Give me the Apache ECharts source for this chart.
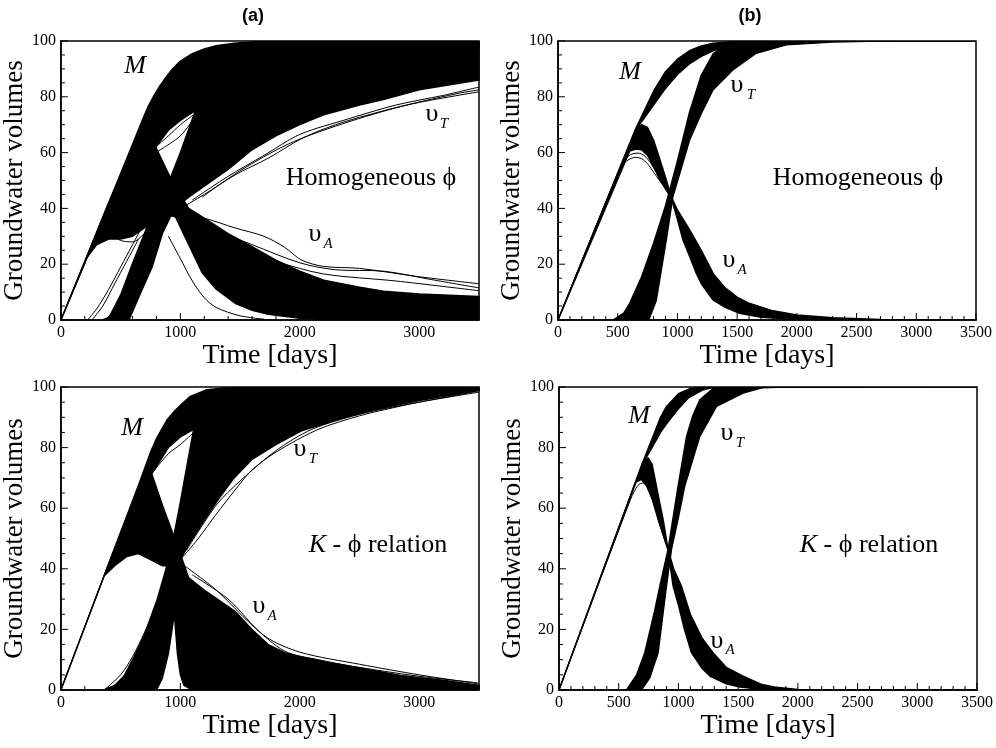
<!DOCTYPE html>
<html><head><meta charset="utf-8">
<script src="https://cdn.jsdelivr.net/npm/echarts@6/dist/echarts.min.js"></script>
<style>html,body{margin:0;padding:0;background:#fff}#c{width:996px;height:748px}</style>
</head><body><div id="c"></div>
<script>
// ---------- Panel (a) top : Homogeneous phi ----------
const aTop_M_hi = [[0,0],[200,21],[400,42],[600,63],[680,71.5],[730,76.5],[780,80.5],[830,84],[880,87],[930,89.8],[1000,92.8],[1100,95.5],[1200,97.2],[1300,98.3],[1450,99.2],[1600,99.7],[1800,100],[3500,100]];
const aTop_M_lo = [[0,0],[220,22.5],[400,35],[600,42],[700,50],[794,62],[900,68],[1000,71.5],[1125,75],[1300,80],[1500,84],[1800,88],[2200,92],[2800,95],[3500,97]];
const aTop_T_hi = [[350,0],[403,1],[500,9],[597,20],[708,32],[800,42],[917,51],[1000,60],[1125,75],[1200,82],[1300,88],[1500,94],[1800,97.5],[2200,99],[2600,99.8],[3500,100]];
const aTop_T_lo = [[570,0],[650,8],[764,19],[850,31],[950,40],[1070,44],[1200,48],[1400,54],[1600,61],[1800,66],[2000,70],[2200,73.5],[2500,77],[2700,79],[3000,82.5],[3500,86]];
const aTop_A_hi = [[0,0],[200,21],[400,42],[600,60],[700,64],[794,62],[850,57],[917,51],[1000,45],[1070,40],[1200,36.5],[1400,31],[1600,26.3],[1800,21.5],[2000,17.5],[2200,14.3],[2500,11.8],[2700,10.3],[3000,9.3],[3500,8.4]];
const aTop_A_lo = [[0,0],[220,22.5],[300,27],[400,29],[500,29],[600,30],[700,33],[800,36],[900,37.5],[958,37],[1070,27],[1181,17],[1300,11],[1458,6],[1600,3.5],[1736,2],[2000,0.6],[2300,0.1],[2600,0],[3500,0]];
const aTop_lines = [
  [[1000,40],[1200,45],[1458,52],[1736,58],[2014,65],[2300,70],[2700,75],[3000,78],[3500,81.8]],
  [[1100,43],[1400,51.5],[1700,59],[2000,66.5],[2400,72],[2800,77],[3200,80.5],[3500,83.5]],
  [[1181,44],[1500,53.5],[1900,63],[2300,69.5],[2800,76],[3300,81],[3500,82.5]],
  [[222,0],[300,4],[400,11],[500,19],[600,27],[700,35],[800,42]],
  [[260,0],[350,5],[450,13],[550,21],[650,29]],
  [[1000,38],[1200,36.5],[1458,33],[1700,30],[1875,26],[2014,21.5],[2200,19.2],[2500,18.5],[3000,15.5],[3500,13]],
  [[1000,36],[1300,32],[1600,27],[2000,20.5],[2300,18],[2700,17.5],[3100,14.5],[3500,11.5]],
  [[1100,30],[1400,27],[1800,21],[2200,16.5],[2800,14],[3500,10.5]],
  [[900,30],[1000,22],[1100,14],[1200,8],[1300,4.5],[1500,1.5],[1700,0.3]],
  [[220,22.5],[300,28],[400,31],[500,28.5],[600,28],[700,31],[800,35]],
  [[794,62],[900,66],[1000,70],[1125,74]],
  [[794,60],[1000,66],[1125,73]]
];

// ---------- Panel (b) top : Homogeneous phi ----------
const bTop_M_hi = [[0,0],[650,68.5],[700,73],[800,82],[900,89],[1000,93.5],[1100,96.5],[1200,98.2],[1300,99.2],[1500,99.9],[3500,100]];
const bTop_M_lo = [[0,0],[650,68],[700,71],[800,77],[900,83],[1000,88],[1100,91.8],[1200,94.5],[1300,96.5],[1400,97.8],[1600,99.2],[2000,99.9],[3500,100]];
const bTop_T_hi = [[460,0],[550,2.5],[600,6],[700,15.5],[800,27.5],[900,41],[1000,57],[1100,74.3],[1200,87.8],[1300,95.5],[1400,98.3],[1500,99.5],[1700,100],[3500,100]];
const bTop_T_lo = [[760,0],[823,7],[907,28.7],[962,44.2],[1102,64.5],[1200,74],[1297,82.4],[1464,89.6],[1660,95.6],[1911,98.6],[2300,99.6],[2700,100],[3500,100]];
const bTop_A_hi = [[0,0],[600,63],[650,68],[700,70],[750,69],[800,64.5],[850,58],[900,51.2],[950,44],[1000,39.5],[1100,32.5],[1200,25],[1300,16.6],[1400,11.5],[1500,8.2],[1600,6],[1800,3.3],[2000,1.8],[2300,0.8],[2700,0.2],[3500,0]];
const bTop_A_lo = [[0,0],[600,60.5],[650,61.3],[700,61],[750,59],[800,55],[850,50.5],[900,47],[950,43.5],[1000,36],[1046,28.7],[1100,23],[1158,16.7],[1200,13],[1297,7.2],[1400,4.5],[1520,2.4],[1700,1],[2000,0.2],[2500,0],[3500,0]];
const bTop_lines = [
  [[0,0],[500,52.5],[550,56],[600,57.7],[650,58.3],[700,57.8],[750,56],[800,53],[850,50],[900,47],[950,44]],
  [[0,0],[500,52.5],[570,58],[620,59.5],[670,59.8],[720,59],[780,56],[850,51],[920,46]]
];

// ---------- Panel (a) bottom : K - phi relation ----------
const aBot_M_hi = [[0,0],[361,37.6],[500,52],[667,69.5],[750,78.5],[800,83],[850,86.5],[889,89.2],[950,92],[1000,94],[1083,96.9],[1222,99.1],[1400,99.8],[1600,100],[3500,100]];
const aBot_M_lo = [[0,0],[361,37.6],[500,45],[650,55],[764,71.6],[900,80],[1000,83.5],[1111,86],[1200,90],[1400,94],[1600,96.5],[2000,98.5],[2500,99.5],[3500,100]];
const aBot_T_hi = [[361,0],[450,1.5],[528,4.6],[600,10],[695,17.8],[806,29.9],[880,40],[945,50.8],[1000,62],[1050,73],[1111,86],[1200,94],[1300,98],[1500,99.5],[3500,100]];
const aBot_T_lo = [[800,0],[850,4],[900,12],[950,25],[1000,43],[1070,48],[1200,56],[1320,63],[1450,70],[1597,76],[1800,81],[2014,85.5],[2300,89],[2570,92],[3000,95.5],[3508,98.9]];
const aBot_A_hi = [[0,0],[361,37.6],[500,52],[600,62],[680,69.5],[736,71.4],[764,71],[850,61],[945,50.8],[1000,45],[1070,37],[1200,33],[1458,26],[1600,20],[1736,15],[1875,12.3],[2000,11],[2292,8.8],[2500,7.3],[2847,4.8],[3200,3.2],[3508,1.5]];
const aBot_A_lo = [[0,0],[361,37.6],[450,41],[550,44],[650,45],[750,43],[850,41],[917,40.9],[950,25],[975,12],[1000,5],[1030,1.5],[1100,0],[3500,0]];
const aBot_lines = [
  [[1000,43],[1150,50],[1300,58],[1458,66],[1597,72.5],[1800,78.5],[2153,86],[2500,90.5],[2708,92.5],[3000,95],[3486,98.6]],
  [[1050,46],[1300,61],[1500,69],[1800,79],[2100,86],[2500,91],[3000,95],[3500,98.3]],
  [[1000,42],[1300,33],[1597,21.5],[1875,12.8],[2153,10],[2431,7.9],[2986,4.6],[3486,2.4]],
  [[1100,38],[1400,30],[1700,18],[2000,12.5],[2500,8.5],[3000,5],[3500,2]],
  [[361,37.6],[450,45],[550,47],[650,46],[750,44],[850,42]],
  [[764,71.6],[900,78],[1000,81],[1111,85]],
  [[361,0],[500,5],[600,11],[700,19],[800,28]]
];

// ---------- Panel (b) bottom : K - phi relation ----------
const bBot_M_hi = [[0,0],[700,75],[750,80],[800,85],[850,90],[900,93.6],[1000,97.8],[1100,99.5],[1200,100],[3500,100]];
const bBot_M_lo = [[0,0],[700,74.5],[750,78],[800,81.5],[850,85],[913,88.5],[1000,92.8],[1081,96.3],[1200,99],[1300,99.9],[3500,100]];
const bBot_T_hi = [[565,0],[650,5],[718,12.3],[800,26],[844,34.3],[913,46.4],[997,67.3],[1068,83.7],[1120,90.5],[1179,95.8],[1290,99.5],[1400,100],[3500,100]];
const bBot_T_lo = [[690,0],[760,4],[830,12.3],[900,34.3],[942,46.4],[1000,57],[1053,67.3],[1179,83.7],[1319,93.6],[1542,98],[1700,99.7],[1900,100],[3500,100]];
const bBot_A_hi = [[0,0],[700,75],[746,76.6],[780,74.5],[816,67.3],[850,60.5],[872,56.3],[913,46.4],[960,40],[1025,34.3],[1100,25],[1200,17],[1290,12.3],[1400,7.5],[1542,4.6],[1700,1.8],[1800,1],[2000,0.2],[2200,0],[3500,0]];
const bBot_A_lo = [[0,0],[640,68.5],[690,69.5],[732,67.5],[780,63],[830,56.3],[870,51.5],[913,46.4],[955,34.3],[1000,28],[1050,20],[1109,12.3],[1200,7],[1263,4.6],[1400,2],[1514,1],[1700,0.2],[1800,0],[3500,0]];
const bBot_lines = [
  [[0,0],[600,63],[660,67.5],[700,68.3],[740,67],[790,62],[840,55],[913,46]]
];

// ---------- axis ticks / labels ----------
const xMax = 3500, yMin = 0, yMax = 100;
const xMajorA = 1000, xMajorB = 500, yMajor = 20;
const xTicksMajorA = [0,1000,2000,3000];
const xTicksMinorA = [200,400,600,800,1200,1400,1600,1800,2200,2400,2600,2800,3200,3400];
const xTicksMajorB = [0,500,1000,1500,2000,2500,3000,3500];
const xTicksMinorB = [100,200,300,400,600,700,800,900,1100,1200,1300,1400,1600,1700,1800,1900,2100,2200,2300,2400,2600,2700,2800,2900,3100,3200,3300,3400];
const yTicksMajor = [0,20,40,60,80,100];
const yTicksMinor = [5,10,15,25,30,35,45,50,55,65,70,75,85,90,95];
const yName = 'Groundwater volumes', xName = 'Time [days]';

const panels = [
  {grid:{left:58, top:41, width:421, height:279}, major:xMajorA, hideMax:true, xt:[xTicksMajorA, xTicksMinorA],
   bands:[[aTop_M_hi,aTop_M_lo],[aTop_T_hi,aTop_T_lo],[aTop_A_hi,aTop_A_lo]], lines:aTop_lines},
  {grid:{left:558, top:41, width:418, height:279}, major:xMajorB, hideMax:false, xt:[xTicksMajorB, xTicksMinorB],
   bands:[[bTop_M_hi,bTop_M_lo],[bTop_T_hi,bTop_T_lo],[bTop_A_hi,bTop_A_lo]], lines:bTop_lines},
  {grid:{left:58, top:387, width:421, height:303}, major:xMajorA, hideMax:true, xt:[xTicksMajorA, xTicksMinorA],
   bands:[[aBot_M_hi,aBot_M_lo],[aBot_T_hi,aBot_T_lo],[aBot_A_hi,aBot_A_lo]], lines:aBot_lines},
  {grid:{left:559, top:387, width:418, height:303}, major:xMajorB, hideMax:false, xt:[xTicksMajorB, xTicksMinorB],
   bands:[[bBot_M_hi,bBot_M_lo],[bBot_T_hi,bBot_T_lo],[bBot_A_hi,bBot_A_lo]], lines:bBot_lines}
];

const SERIF = '"Liberation Serif","Times New Roman",serif';
const BLACK = '#000';
const grid = [], xAxis = [], yAxis = [], series = [];
panels.forEach(function(p, i){
  grid.push(Object.assign({show:true, borderColor:BLACK, borderWidth:1.5, backgroundColor:'rgba(0,0,0,0)', containLabel:false}, p.grid));
  xAxis.push({gridIndex:i, type:'value', min:0, max:xMax, interval:p.major,
    axisLine:{show:true, lineStyle:{color:BLACK, width:1.5}},
    axisTick:{show:false},
    axisLabel:{color:BLACK, fontFamily:SERIF, fontSize:16, margin:5, showMaxLabel:!p.hideMax,
      formatter:function(v){return String(v);}},
    splitLine:{show:false},
    name:xName, nameLocation:'middle', nameGap:21,
    nameTextStyle:{color:BLACK, fontFamily:SERIF, fontSize:28}});
  yAxis.push({gridIndex:i, type:'value', min:yMin, max:yMax, interval:yMajor,
    axisLine:{show:true, lineStyle:{color:BLACK, width:1.5}},
    axisTick:{show:false},
    axisLabel:{color:BLACK, fontFamily:SERIF, fontSize:16, margin:5},
    splitLine:{show:false},
    name:yName, nameLocation:'middle', nameGap:27, nameRotate:90,
    nameTextStyle:{color:BLACK, fontFamily:SERIF, fontSize:27}});
  p.bands.forEach(function(b){
    const hi = b[0], lo = b[1];
    series.push({type:'custom', xAxisIndex:i, yAxisIndex:i, clip:true, silent:true, z:1, data:[[0,0]],
      renderItem:function(params, api){
        const pts = hi.map(function(q){return api.coord(q);})
          .concat(lo.slice().reverse().map(function(q){return api.coord(q);}));
        return {type:'polygon', shape:{points:pts},
          style:{fill:BLACK, stroke:BLACK, lineWidth:1.4, lineJoin:'round'}};
      }});
  });
  p.lines.forEach(function(l){
    series.push({type:'line', xAxisIndex:i, yAxisIndex:i, data:l, smooth:0.3, symbol:'none',
      showSymbol:false, silent:true, clip:true, z:1, lineStyle:{color:BLACK, width:1}});
  });
  // inside tick marks, positioned through the axis scales
  const xt = p.xt;
  series.push({type:'custom', xAxisIndex:i, yAxisIndex:i, clip:false, silent:true, z:6, data:[[0,0]],
    renderItem:function(params, api){
      const kids = [];
      function tx(v, len){ const q = api.coord([v, yMin]);
        kids.push({type:'line', shape:{x1:q[0], y1:q[1], x2:q[0], y2:q[1]-len}, style:{stroke:BLACK, lineWidth:1}}); }
      function ty(v, len){ const q = api.coord([0, v]);
        kids.push({type:'line', shape:{x1:q[0], y1:q[1], x2:q[0]+len, y2:q[1]}, style:{stroke:BLACK, lineWidth:1}}); }
      xt[0].forEach(function(v){tx(v, 7);});
      xt[1].forEach(function(v){tx(v, 4);});
      yTicksMajor.forEach(function(v){ty(v, 7);});
      yTicksMinor.forEach(function(v){ty(v, 4);});
      return {type:'group', children:kids};
    }});
});

function txt(x, y, s, font){
  return {type:'text', x:x, y:y, silent:true, z:10,
    style:{text:s, font:font, fill:BLACK, align:'center', verticalAlign:'middle'}};
}
const big = '26px ' + SERIF, bigI = 'italic 26px ' + SERIF, subI = 'italic 15px ' + SERIF;
const gphi = '26px "Liberation Serif","DejaVu Serif",serif';
function kphi(x, y){
  return {type:'text', x:x, y:y, silent:true, z:10, style:{text:'{k|K} - \u03D5 relation', font:gphi, fill:BLACK,
    align:'center', verticalAlign:'middle', rich:{k:{fontStyle:'italic', fontSize:26, fontFamily:SERIF}}}};
}
const graphic = [
  txt(253, 16, '(a)', 'bold 18px "Liberation Sans",Arial,sans-serif'),
  txt(750, 16, '(b)', 'bold 18px "Liberation Sans",Arial,sans-serif'),
  txt(135, 66, 'M', bigI),
  txt(432, 114, '\u03C5', big), txt(444, 124, 'T', subI),
  txt(371, 178, 'Homogeneous \u03D5', gphi),
  txt(315, 234, '\u03C5', big), txt(328, 244, 'A', subI),
  txt(630, 72, 'M', bigI),
  txt(737, 85, '\u03C5', big), txt(751, 95, 'T', subI),
  txt(858, 178, 'Homogeneous \u03D5', gphi),
  txt(729, 260, '\u03C5', big), txt(742, 270, 'A', subI),
  txt(132, 428, 'M', bigI),
  txt(300, 449, '\u03C5', big), txt(313, 459, 'T', subI),
  kphi(378, 545),
  txt(259, 606, '\u03C5', big), txt(272, 616, 'A', subI),
  txt(639, 416, 'M', bigI),
  txt(727, 433, '\u03C5', big), txt(740, 443, 'T', subI),
  kphi(869, 545),
  txt(717, 641, '\u03C5', big), txt(730, 650, 'A', subI)
];

const chart = echarts.init(document.getElementById('c'), null, {renderer:'canvas'});
chart.setOption({animation:false, backgroundColor:'#fff', grid:grid, xAxis:xAxis, yAxis:yAxis, series:series, graphic:graphic});
</script>
</body></html>
